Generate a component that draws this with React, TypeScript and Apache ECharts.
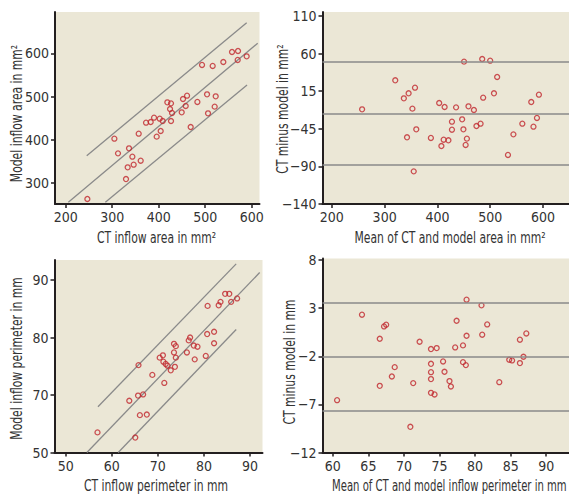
import React, { useEffect, useRef } from "react";
import * as echarts from "echarts";

// ---------- Data ----------
// Panel A: CT inflow area vs model inflow area (mm²)
const areaCT = [246.6, 304.7, 312.5, 336.2, 343.4, 333.3, 346.2, 329.7, 361.3, 357, 372.8, 382.8, 390, 395.7, 402.2, 404.3, 408.6, 418.6, 426.5, 424.4, 428.7, 426.5, 449.5, 452.3, 458.1, 461, 468.8, 483.2, 493.2, 504, 506.1, 516.1, 522.6, 520.4, 539, 557.7, 570.6, 569.9, 589.2];
const areaModel = [263, 402.7, 368.7, 380.3, 361, 336.3, 342.5, 309.2, 351.7, 414.3, 439.8, 441.3, 451.4, 407.4, 449, 420.5, 443.6, 486.9, 484.5, 471.4, 462.2, 443.6, 463.7, 494.6, 478.4, 502.3, 429.7, 487.7, 573.4, 505.4, 461.4, 571.1, 500.8, 476.9, 580.3, 603.5, 605.8, 585, 593.4];
const areaFitLine = [[205.7, 255.2], [612.9, 623.6]];
const areaUpperLine = [[245.2, 363.3], [589.2, 671.4]];
const areaLowerLine = [[285.3, 255.2], [590, 527]];

// Panel B: Bland-Altman area
const areaMean = [257.3, 320.1, 336.4, 345.4, 357.5, 352.6, 342.4, 359.9, 355.1, 387.6, 403.3, 413.6, 407.5, 411.8, 420.8, 427.5, 427.5, 435.3, 446.8, 449.2, 450.4, 453.4, 455.8, 458.8, 469.1, 473.9, 481.7, 484.8, 486.6, 499.9, 507.1, 513.1, 533.6, 543.9, 560.8, 577.7, 581.9, 588.5, 592.2];
const areaDiff = [-14.1, 24.5, 0.5, 7.2, 14.7, -13.2, -51.3, -40.7, -96.6, -52.2, -5.7, -11, -62.9, -54.5, -55.3, -30.5, -41.2, -11.5, -27.4, -40.7, 49.3, -61.5, -53.1, -10.1, -15, -36.3, -33.2, 52.8, 1.4, 50.6, 7.2, 28.9, -74.8, -47.4, -33.2, -4.4, -37.2, -25.6, 5.4];
const areaLimits = [48.6, -19.4, -87.5];

// Panel C: CT inflow perimeter vs model inflow perimeter (mm)
const perimCT = [56.9, 63.8, 65.7, 66.8, 65.8, 66.1, 67.6, 65.1, 68.8, 70.4, 71.1, 71.2, 71.7, 72.1, 71.4, 72.8, 73.5, 73.5, 73.9, 73.9, 73.7, 76.3, 76.7, 77, 77.8, 78.6, 78, 80.4, 80.7, 80.8, 82.2, 82.2, 83.2, 83.6, 84.6, 85.5, 85.9, 87.2];
const perimModel = [63.5, 69, 69.9, 70.1, 75.2, 66.5, 66.6, 62.6, 73.5, 76.5, 76.9, 75.8, 75.4, 75.1, 72.1, 74.3, 78.9, 77.4, 78.5, 76.5, 74.9, 77.4, 79.5, 80, 78.6, 78.4, 76.2, 76.8, 80.6, 85.5, 81, 79, 85.6, 86.2, 87.6, 87.6, 86.2, 86.8];
const perimFitLine = [[54.6, 60], [92.1, 91.3]];
const perimUpperLine = [[57.0, 67.95], [87.0, 92.8]];
const perimLowerLine = [[61.4, 60], [87.0, 81.4]];

// Panel D: Bland-Altman perimeter
const perimMean = [60.6, 64.1, 66.6, 66.6, 67.2, 67.5, 68.3, 68.7, 70.9, 71.3, 72.2, 73.8, 73.8, 73.8, 73.8, 73.8, 74.3, 74.6, 75.5, 75.7, 76.4, 76.6, 77.2, 77.4, 78.3, 78.3, 78.7, 78.8, 78.8, 80.9, 81.0, 81.7, 83.4, 84.8, 85.2, 86.3, 86.3, 86.8, 87.2];
const perimDiff = [-6.56, 2.32, -0.18, -5.07, 1.1, 1.28, -4.1, -3.13, -9.33, -4.79, -0.49, -1.25, -2.78, -3.65, -4.37, -5.8, -5.97, -1.15, -2.54, -3.61, -4.58, -5.14, -1.08, 1.69, -0.87, -2.61, -2.92, 3.88, 0.13, 3.29, 0.24, 1.31, -4.69, -2.36, -2.43, -0.28, -2.71, -2.05, 0.37];
const perimLimits = [3.6, -2.0, -7.7];

// Tick values and labels
const aXTicks = [200, 300, 400, 500, 600];
const aYTicks = [300, 400, 500, 600];
const bXTicks = [200, 300, 400, 500, 600];
const bYTicks = [-140, -90, -40, 10, 60, 110];
const bYTickLabels = ["−140", "−90", "−45", "15", "60", "110"];
const cXTicks = [50, 60, 70, 80, 90];
const cYTicks = [60, 70, 80, 90];
const cYTickLabels = ["50", "70", "80", "90"];
const dXTicks = [60, 65, 70, 75, 80, 85, 90];
const dYTicks = [-12, -7, -2, 3, 8];

// Axis titles
const aXTitle = "CT inflow area in mm²";
const aYTitle = "Model inflow area in mm²";
const bXTitle = "Mean of CT and model area in mm²";
const bYTitle = "CT minus model in mm²";
const cXTitle = "CT inflow perimeter in mm";
const cYTitle = "Model inflow perimeter in mm";
const dXTitle = "Mean of CT and model inflow perimeter in mm";
const dYTitle = "CT minus model in mm";

// ---------- Styling ----------
const FONT = '"Liberation Sans Narrow", "DejaVu Sans Condensed", "Roboto Condensed", sans-serif';
const BG = "#ebe7d6";
const AXIS = "#231f20";
const TEXT = "#333333";
const LINE = "#8a8a8a";
const RED = "#c1272d";
const TITLE_SIZE = 16;
const TITLE_SCALE = 0.75;

const zip = (a: number[], b: number[]) => a.map((v, i) => [v, b[i]]);
const minus = (v: number) => String(v).replace("-", "−");

function makeAxis(
  gridIndex: number,
  min: number,
  max: number,
  ticks: number[],
  labels?: string[]
) {
  return {
    type: "value",
    gridIndex,
    min,
    max,
    axisLine: { show: true, onZero: false, lineStyle: { color: AXIS, width: 2 } },
    axisTick: { show: true, customValues: ticks, length: 4, lineStyle: { color: AXIS, width: 1.5 } },
    axisLabel: {
      customValues: ticks,
      margin: 6,
      fontFamily: FONT,
      fontSize: 14,
      color: TEXT,
      formatter: (v: number) => {
        if (labels) {
          const i = ticks.findIndex((t) => Math.abs(t - v) < 1e-6);
          return i >= 0 ? labels[i] : "";
        }
        return minus(Math.round(v * 1000) / 1000);
      },
    },
    splitLine: { show: false },
  };
}

function lineSeries(xi: number, data: number[][]) {
  return {
    type: "line",
    xAxisIndex: xi,
    yAxisIndex: xi,
    data,
    symbol: "none",
    silent: true,
    lineStyle: { color: LINE, width: 1.3 },
    z: 2,
  };
}

function scatterSeries(xi: number, data: number[][]) {
  return {
    type: "scatter",
    xAxisIndex: xi,
    yAxisIndex: xi,
    data,
    symbol: "circle",
    symbolSize: 5,
    itemStyle: { color: "rgba(0,0,0,0)", borderColor: RED, borderWidth: 1.3 },
    z: 3,
  };
}

function limitSeries(xi: number, limits: number[]) {
  return {
    type: "line",
    xAxisIndex: xi,
    yAxisIndex: xi,
    data: [],
    markLine: {
      silent: true,
      symbol: "none",
      label: { show: false },
      lineStyle: { color: LINE, width: 1.6, type: "solid" },
      data: limits.map((v) => ({ yAxis: v })),
    },
  };
}

function title(text: string, x: number, y: number, vertical: boolean, align = "center", scale = TITLE_SCALE) {
  return {
    type: "text",
    x,
    y,
    rotation: vertical ? Math.PI / 2 : 0,
    scaleX: scale,
    scaleY: 1,
    silent: true,
    style: {
      text,
      fontFamily: FONT,
      fontSize: TITLE_SIZE,
      fill: TEXT,
      align,
      verticalAlign: "middle",
    },
  };
}

export default function App() {
  const ref = useRef<HTMLDivElement>(null);

  useEffect(() => {
    if (!ref.current) return;
    const chart = echarts.init(ref.current, undefined, { renderer: "svg" });
    const gridCommon = { show: true, backgroundColor: BG, borderWidth: 0, containLabel: false };
    chart.setOption({
      animation: false,
      grid: [
        { ...gridCommon, left: 55, top: 12, width: 204.5, height: 192 },
        { ...gridCommon, left: 322.5, top: 12, width: 258, height: 192 },
        { ...gridCommon, left: 54.5, top: 260, width: 208, height: 192.5 },
        { ...gridCommon, left: 322.5, top: 258.5, width: 258, height: 194 },
      ],
      xAxis: [
        makeAxis(0, 177, 616.8, aXTicks),
        makeAxis(1, 182.3, 649.2, bXTicks),
        makeAxis(2, 47.57, 92.71, cXTicks),
        makeAxis(3, 58.55, 93.2, dXTicks),
      ],
      yAxis: [
        makeAxis(0, 251.4, 696.1, aYTicks),
        makeAxis(1, -140, 115.3, bYTicks, bYTickLabels),
        makeAxis(2, 60, 93.48, cYTicks, cYTickLabels),
        makeAxis(3, -12, 8.16, dYTicks),
      ],
      graphic: [
        title(aXTitle, 156.5, 237, false),
        title(bXTitle, 450, 237, false),
        title(cXTitle, 156, 485, false),
        title(dXTitle, 332, 485, false, "left", 0.7),
        title(aYTitle, 16, 113.5, true),
        title(bYTitle, 282, 109, true),
        title(cYTitle, 16, 358.5, true),
        title(dYTitle, 289, 362, true),
      ],
      series: [
        lineSeries(0, areaFitLine),
        lineSeries(0, areaUpperLine),
        lineSeries(0, areaLowerLine),
        scatterSeries(0, zip(areaCT, areaModel)),
        limitSeries(1, areaLimits),
        scatterSeries(1, zip(areaMean, areaDiff)),
        lineSeries(2, perimFitLine),
        lineSeries(2, perimUpperLine),
        lineSeries(2, perimLowerLine),
        scatterSeries(2, zip(perimCT, perimModel)),
        limitSeries(3, perimLimits),
        scatterSeries(3, zip(perimMean, perimDiff)),
      ],
    });
    return () => chart.dispose();
  }, []);

  return (
    <div
      ref={ref}
      style={{ position: "fixed", left: 0, top: 0, width: 569, height: 494, background: "#ffffff" }}
    />
  );
}
